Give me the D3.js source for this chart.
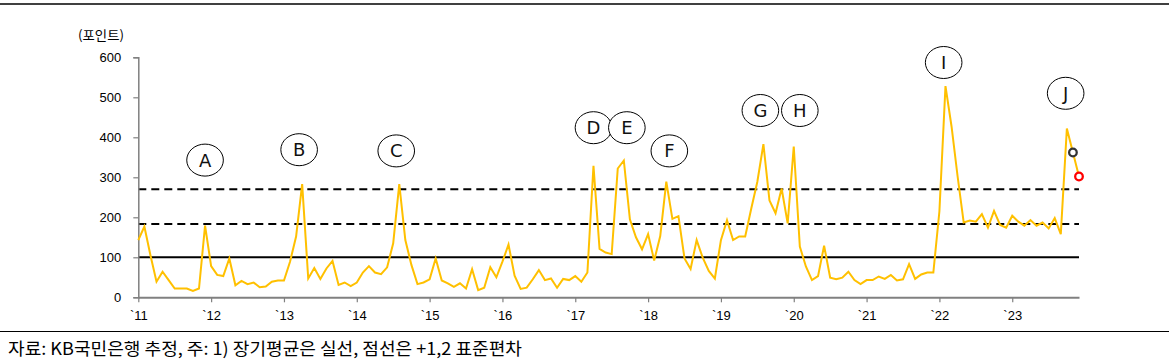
<!DOCTYPE html>
<html>
<head>
<meta charset="utf-8">
<script src="https://cdn.jsdelivr.net/npm/d3@7"></script>
<style>
  body { margin: 0; background: #fff; }
  svg { display: block; font-family: 'DejaVu Sans', 'Noto Sans CJK KR', sans-serif; }
</style>
</head>
<body>
<svg width="1169" height="363"></svg>
<script>
// monthly index, Jan 2011 .. Dec 2023
const values = [
  143, 177, 105, 39, 64, 43, 22, 22, 22, 16, 22, 179,
  78, 56, 53, 97, 30, 41, 33, 37, 25, 27, 39, 42,
  42, 89, 152, 283, 47, 73, 46, 72, 91, 31, 37, 28,
  37, 62, 78, 62, 58, 75, 135, 283, 143, 81, 33, 37,
  45, 97, 42, 35, 26, 35, 22, 70, 18, 24, 75, 50,
  89, 132, 54, 21, 24, 45, 68, 43, 47, 24, 46, 43,
  53, 39, 62, 329, 121, 112, 108, 322, 342, 195, 150, 120,
  158, 92, 153, 289, 196, 203, 97, 71, 143, 99, 66, 47,
  143, 193, 143, 152, 152, 222, 289, 383, 242, 210, 272, 185,
  377, 127, 77, 43, 53, 129, 49, 45, 49, 64, 43, 33,
  43, 43, 52, 46, 56, 42, 45, 83, 46, 57, 62, 62,
  215, 528, 427, 302, 187, 192, 189, 208, 174, 216, 181, 174,
  204, 189, 179, 193, 179, 187, 172, 198, 158, 422, 362, 302
];
const yearLabels = ['`11', '`12', '`13', '`14', '`15', '`16', '`17', '`18', '`19', '`20', '`21', '`22', '`23'];
const yTicks = [0, 100, 200, 300, 400, 500, 600];
const refLines = [
  { value: 100, dashed: false },
  { value: 183, dashed: true },
  { value: 270, dashed: true }
];
const events = [
  { label: 'A', month: 11, level: 343 },
  { label: 'B', month: 26.5, level: 369 },
  { label: 'C', month: 42.5, level: 366 },
  { label: 'D', month: 75, level: 424 },
  { label: 'E', month: 80.5, level: 424 },
  { label: 'F', month: 87.5, level: 366 },
  { label: 'G', month: 102.5, level: 467 },
  { label: 'H', month: 109, level: 467 },
  { label: 'I', month: 132.7, level: 587 },
  { label: 'J', month: 152.8, level: 510 }
];
const lastBlack = 154;
const lastRed = 155;
const unitLabel = '(포인트)';
const source = '자료: KB국민은행 추정, 주: 1) 장기평균은 실선, 점선은 +1,2 표준편차';

const svg = d3.select('svg');
const x = d3.scaleLinear().domain([0, 155]).range([138.3, 1079]);
const y = d3.scaleLinear().domain([0, 600]).range([297.3, 57.3]);

// top and bottom rules
svg.append('line').attr('x1', 0).attr('x2', 1169).attr('y1', 4).attr('y2', 4)
  .attr('stroke', '#000').attr('stroke-width', 1.3);
svg.append('line').attr('x1', 0).attr('x2', 1169).attr('y1', 331.5).attr('y2', 331.5)
  .attr('stroke', '#000').attr('stroke-width', 1);

// reference lines
svg.selectAll('.ref')
  .data(refLines)
  .enter()
  .append('line')
  .attr('x1', x(0)).attr('x2', x(155))
  .attr('y1', d => y(d.value)).attr('y2', d => y(d.value))
  .attr('stroke', '#000').attr('stroke-width', 2)
  .attr('stroke-dasharray', d => (d.dashed ? '8,5' : null));

// y axis
const yAxis = svg.append('g')
  .attr('transform', `translate(${x(0)},0)`)
  .call(d3.axisLeft(y).tickValues(yTicks).tickSize(5).tickPadding(12));
yAxis.select('.domain').attr('stroke', '#808080').attr('stroke-width', 1.5);
yAxis.selectAll('.tick line').attr('stroke', '#808080').attr('stroke-width', 1.2);
yAxis.selectAll('text').attr('font-size', 13).attr('fill', '#000');

// x axis
const xAxis = svg.append('g')
  .attr('transform', `translate(0,${y(0)})`)
  .call(d3.axisBottom(x)
    .tickValues(yearLabels.map((d, i) => i * 12))
    .tickFormat((d, i) => yearLabels[i])
    .tickSize(5).tickSizeOuter(0).tickPadding(8));
xAxis.select('.domain').attr('stroke', '#808080').attr('stroke-width', 2);
xAxis.selectAll('.tick line').attr('stroke', '#808080').attr('stroke-width', 1.2);
xAxis.selectAll('text').attr('font-size', 13).attr('fill', '#000');

// series
const line = d3.line().x((d, i) => x(i)).y(d => y(d));
svg.append('path')
  .datum(values)
  .attr('d', line)
  .attr('fill', 'none')
  .attr('stroke', '#FFC000')
  .attr('stroke-width', 2);

svg.append('circle').attr('cx', x(lastBlack)).attr('cy', y(values[lastBlack]))
  .attr('r', 3.8).attr('fill', '#fff').attr('stroke', '#333').attr('stroke-width', 2.3);
svg.append('circle').attr('cx', x(lastRed)).attr('cy', y(values[lastRed]))
  .attr('r', 3.8).attr('fill', '#fff').attr('stroke', '#FF0000').attr('stroke-width', 2.3);

// event markers
const ev = svg.selectAll('.ev').data(events).enter().append('g')
  .attr('transform', d => `translate(${x(d.month)},${y(d.level)})`);
ev.append('ellipse').attr('rx', 18.3).attr('ry', 16)
  .attr('fill', '#fff').attr('stroke', '#000').attr('stroke-width', 1);
ev.append('text').attr('text-anchor', 'middle').attr('dy', '0.36em')
  .attr('font-size', 18).attr('fill', '#111')
  .text(d => d.label);

// labels
svg.append('text').attr('x', 78).attr('y', 40)
  .attr('font-size', 13).attr('font-family', "'Noto Sans CJK KR', sans-serif")
  .attr('textLength', 46).attr('lengthAdjust', 'spacingAndGlyphs')
  .text(unitLabel);
svg.append('text').attr('x', 8).attr('y', 355)
  .attr('font-size', 17).attr('font-family', "'Noto Sans CJK KR', sans-serif")
  .attr('textLength', 514).attr('lengthAdjust', 'spacingAndGlyphs')
  .text(source);
</script>
</body>
</html>
